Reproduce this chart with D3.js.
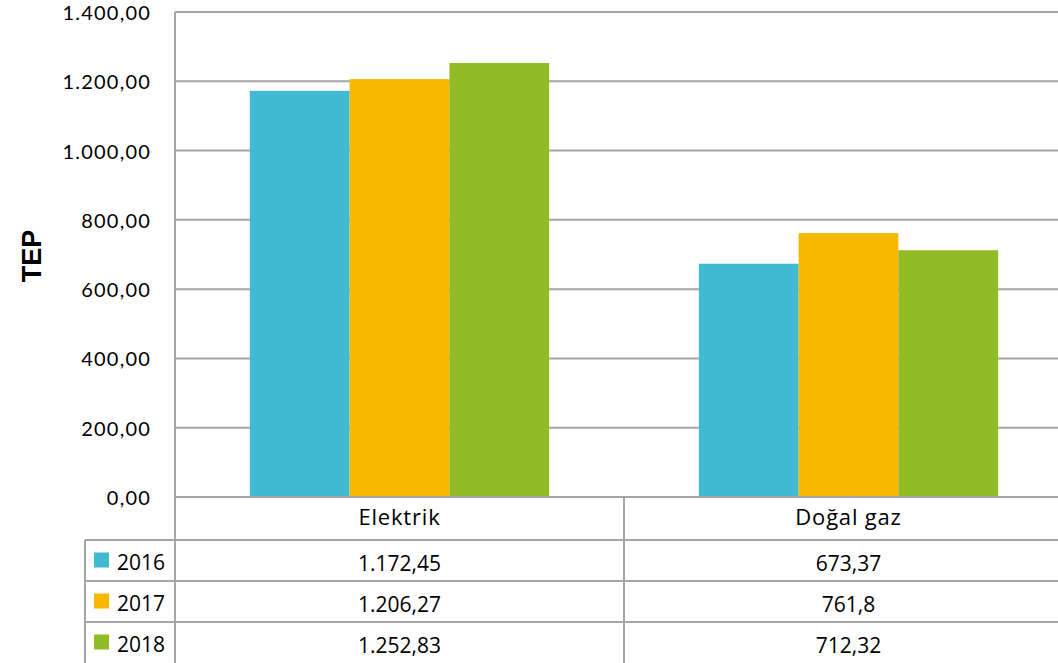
<!DOCTYPE html>
<html><head><meta charset="utf-8">
<script src="https://cdn.jsdelivr.net/npm/d3@7"></script>
<style>
html,body{margin:0;padding:0;background:#fff;}
svg{display:block;font-family:"Open Sans",Lato,sans-serif;}
</style></head>
<body><svg id="c" width="1058" height="663"></svg>
<script>
const categories = ["Elektrik", "Doğal gaz"];
const years = ["2016", "2017", "2018"];
const values2016 = [1172.45, 673.37];
const values2017 = [1206.27, 761.8];
const values2018 = [1252.83, 712.32];
const labels2016 = ["1.172,45", "673,37"];
const labels2017 = ["1.206,27", "761,8"];
const labels2018 = ["1.252,83", "712,32"];
const yTicks = [0, 200, 400, 600, 800, 1000, 1200, 1400];
const yTickLabels = ["0,00", "200,00", "400,00", "600,00", "800,00", "1.000,00", "1.200,00", "1.400,00"];
const colors = ["#41BAD3", "#F9B800", "#92BC25"];
const yTitle = "TEP";

(function () {
const series = [values2016, values2017, values2018];
const seriesLabels = [labels2016, labels2017, labels2018];

const svg = d3.select("#c");
const pLeft = 175, pRight = 1073, pTop = 12, pBottom = 497;
const grid = "#a6a6a6";

const y = d3.scaleLinear().domain([0, 1400]).range([pBottom, pTop]);
const x0 = d3.scaleBand().domain(categories).range([pLeft, pRight]).padding(0);
const x1 = d3.scaleBand().domain(years).range([0, x0.bandwidth()]).paddingInner(0).paddingOuter(0.75);

svg.append("g").selectAll("line").data(yTicks).join("line")
  .attr("x1", pLeft).attr("x2", pRight)
  .attr("y1", d => y(d)).attr("y2", d => y(d))
  .attr("stroke", grid).attr("stroke-width", 2);

svg.append("line").attr("x1", pLeft).attr("x2", pLeft).attr("y1", pTop).attr("y2", pBottom)
  .attr("stroke", grid).attr("stroke-width", 2);

svg.append("g").selectAll("text").data(yTicks).join("text")
  .attr("x", 151).attr("y", d => y(d) + 8)
  .attr("text-anchor", "end").attr("font-size", 20).attr("fill", "#000")
  .attr("font-family", "Lato,sans-serif").attr("letter-spacing", 1.2)
  .text((d, i) => yTickLabels[i]);

svg.append("text").attr("transform", "translate(41,256) rotate(-90)")
  .attr("text-anchor", "middle").attr("font-size", 27).attr("font-weight", "bold")
  .attr("font-family", "'Liberation Sans',Arial,sans-serif").text(yTitle);

years.forEach((yr, si) => {
  svg.append("g").selectAll("rect").data(categories).join("rect")
    .attr("x", c => x0(c) + x1(yr))
    .attr("width", x1.bandwidth())
    .attr("y", (c, i) => y(series[si][i]))
    .attr("height", (c, i) => pBottom - y(series[si][i]))
    .attr("fill", colors[si]);
});

const rowH = [43, 41, 41, 41];
const rowY = [pBottom];
rowH.forEach(h => rowY.push(rowY[rowY.length - 1] + h));
const legendLeft = 85;
const tg = svg.append("g");
tg.append("line").attr("x1", pLeft).attr("x2", pRight).attr("y1", pBottom).attr("y2", pBottom).attr("stroke", grid).attr("stroke-width", 2);
[1, 2, 3].forEach(i => {
  tg.append("line").attr("x1", legendLeft).attr("x2", pRight).attr("y1", rowY[i]).attr("y2", rowY[i]).attr("stroke", grid).attr("stroke-width", 2);
});
tg.append("line").attr("x1", legendLeft).attr("x2", legendLeft).attr("y1", rowY[1]).attr("y2", 663).attr("stroke", grid).attr("stroke-width", 2);
categories.forEach(c => {
  tg.append("line").attr("x1", x0(c)).attr("x2", x0(c)).attr("y1", pBottom).attr("y2", 663).attr("stroke", grid).attr("stroke-width", 2);
});
tg.append("line").attr("x1", pRight).attr("x2", pRight).attr("y1", pBottom).attr("y2", 663).attr("stroke", grid).attr("stroke-width", 2);

tg.selectAll("text.cat").data(categories).join("text").attr("class", "cat")
  .attr("x", c => x0(c) + x0.bandwidth() / 2)
  .attr("y", pBottom + 28).attr("text-anchor", "middle").attr("font-size", 22)
  .attr("letter-spacing", 0.8).text(c => c);

years.forEach((yr, si) => {
  const yMid = (rowY[si + 1] + rowY[si + 2]) / 2;
  tg.append("rect").attr("x", 94).attr("y", yMid - 8).attr("width", 15).attr("height", 15).attr("fill", colors[si]);
  tg.append("text").attr("x", 117).attr("y", yMid + 9).attr("font-size", 21).text(yr);
  tg.append("g").selectAll("text").data(categories).join("text")
    .attr("x", c => x0(c) + x0.bandwidth() / 2)
    .attr("y", yMid + 10).attr("text-anchor", "middle").attr("font-size", 21)
    .text((c, i) => seriesLabels[si][i]);
});
})();
</script></body></html>
